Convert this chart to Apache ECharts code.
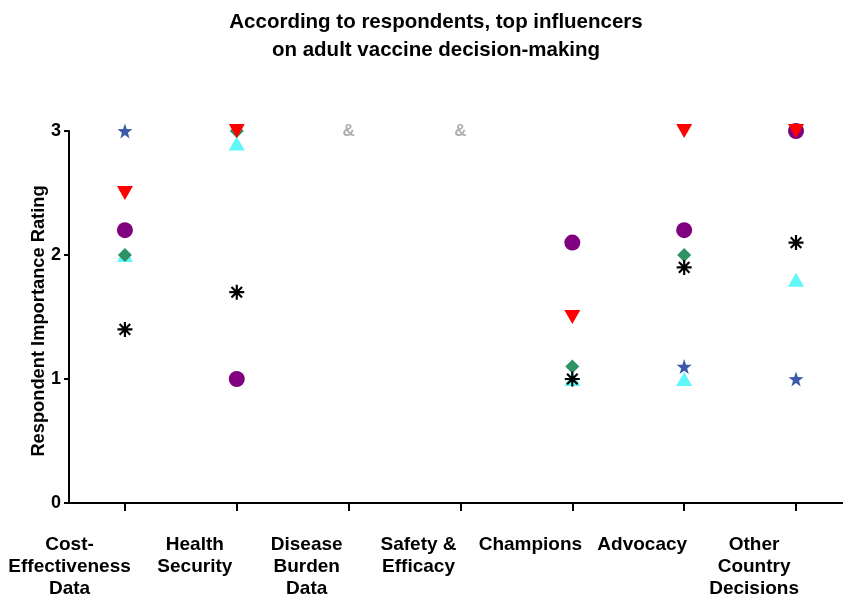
<!DOCTYPE html>
<html>
<head>
<meta charset="utf-8">
<script src="https://cdn.jsdelivr.net/npm/echarts@6/dist/echarts.min.js"></script>
<style>
html,body{margin:0;padding:0;background:#fff;}
#chart{width:843px;height:601px;}
</style>
</head>
<body>
<div id="chart"></div>
<script>
var categories = ['Cost-\nEffectiveness\nData', 'Health\nSecurity', 'Disease\nBurden\nData', 'Safety &\nEfficacy', 'Champions', 'Advocacy', 'Other\nCountry\nDecisions'];
var yTicks = [0, 1, 2, 3];
var cyanValues     = [2.0, 2.9, null, null, 1.0, 1.0, 1.8];
var greenValues    = [2.0, 3.0, null, null, 1.1, 2.0, 3.0];
var starValues     = [3.0, null, null, null, null, 1.1, 1.0];
var purpleValues   = [2.2, 1.0, null, null, 2.1, 2.2, 3.0];
var asteriskValues = [1.4, 1.7, null, null, 1.0, 1.9, 2.1];
var redValues      = [2.5, 3.0, null, null, 1.5, 3.0, 3.0];
var ampValues      = [null, null, 3, 3, null, null, null];

var FONT = 'Liberation Sans, Arial, sans-serif';
var catIndex = categories.map(function (c, i) { return i; });
// category labels sit left of their ticks in the reference (first one pinned at the left edge)
var LABEL_SHIFT = 0.375;
var FIRST_LABEL_POS = -0.495;
var labelPositions = catIndex.map(function (i) { return i === 0 ? FIRST_LABEL_POS : i - LABEL_SHIFT; });

var starPath = 'path://M10 0 L12.351 6.764 L19.511 6.910 L13.804 11.236 L15.878 18.090 L10 14 L4.122 18.090 L6.196 11.236 L0.489 6.910 L7.649 6.764 Z';
var asteriskPath = 'path://M1 8.7 L19 8.7 L19 11.3 L1 11.3 Z M8.7 1 L11.3 1 L11.3 19 L8.7 19 Z M2.717 4.556 L4.556 2.717 L17.283 15.444 L15.444 17.283 Z M2.717 15.444 L15.444 2.717 L17.283 4.556 L4.556 17.283 Z M10 6.5 A3.5 3.5 0 1 1 9.99 6.5 Z';

function pairs(values) {
  var out = [];
  values.forEach(function (v, i) { if (v !== null) out.push([catIndex[i], v]); });
  return out;
}
function sc(name, values, symbol, size, color, rotate) {
  return {
    name: name, type: 'scatter', data: pairs(values), symbol: symbol, symbolSize: size,
    symbolRotate: rotate || 0,
    itemStyle: { color: color, opacity: 1 },
    emphasis: { disabled: true }
  };
}

var chart = echarts.init(document.getElementById('chart'), null, { renderer: 'canvas' });
chart.setOption({
  animation: false,
  backgroundColor: '#ffffff',
  title: {
    text: 'According to respondents, top influencers\non adult vaccine decision-making',
    left: 431, textAlign: 'center', top: 3,
    textStyle: { fontFamily: FONT, fontSize: 20.5, fontWeight: 'bold', color: '#000', lineHeight: 28 }
  },
  graphic: [{
    type: 'text', x: 38.5, y: 321, rotation: Math.PI / 2,
    style: { text: 'Respondent Importance Rating', fontFamily: FONT, fontSize: 18.3, fontWeight: 'bold', fill: '#000', align: 'center', verticalAlign: 'middle' }
  }],
  grid: { left: 69, top: 131, bottom: 98, right: 0, containLabel: false },
  xAxis: {
    type: 'value', min: -0.5, max: 6.42,
    axisLine: { show: true, onZero: false, lineStyle: { color: '#000', width: 2 } },
    axisTick: { show: true, customValues: catIndex, length: 8, lineStyle: { color: '#000', width: 2 } },
    axisLabel: {
      show: true, customValues: labelPositions, margin: 31, fontFamily: FONT, fontSize: 19, fontWeight: 'bold',
      color: '#000', lineHeight: 22, align: 'center',
      formatter: function (v) { return categories[labelPositions.indexOf(v)]; }
    },
    splitLine: { show: false }
  },
  yAxis: {
    type: 'value', min: yTicks[0], max: yTicks[yTicks.length - 1], interval: 1,
    axisLine: { show: true, onZero: false, lineStyle: { color: '#000', width: 2 } },
    axisTick: { show: true, length: 5, lineStyle: { color: '#000', width: 2 } },
    axisLabel: { margin: 8, fontFamily: FONT, fontSize: 18, fontWeight: 'bold', color: '#000' },
    splitLine: { show: false }
  },
  series: [
    sc('cyan', cyanValues, 'triangle', [16, 14], '#5ff7f7'),
    sc('green', greenValues, 'diamond', [14, 14], '#2e9364'),
    sc('star', starValues, starPath, 15, '#3b5ba9'),
    sc('purple', purpleValues, 'circle', 16, '#800080'),
    sc('asterisk', asteriskValues, asteriskPath, 15, '#000000'),
    sc('red', redValues, 'triangle', [16, 14], '#ff0000', 180),
    {
      name: 'amp', type: 'scatter', data: pairs(ampValues), symbol: 'circle', symbolSize: 2,
      itemStyle: { color: 'rgba(0,0,0,0)' },
      label: { show: true, position: 'inside', formatter: '&', fontFamily: FONT, fontSize: 17, fontWeight: 'bold', color: '#9a9a9a' },
      emphasis: { disabled: true }
    }
  ]
});
</script>
</body>
</html>
